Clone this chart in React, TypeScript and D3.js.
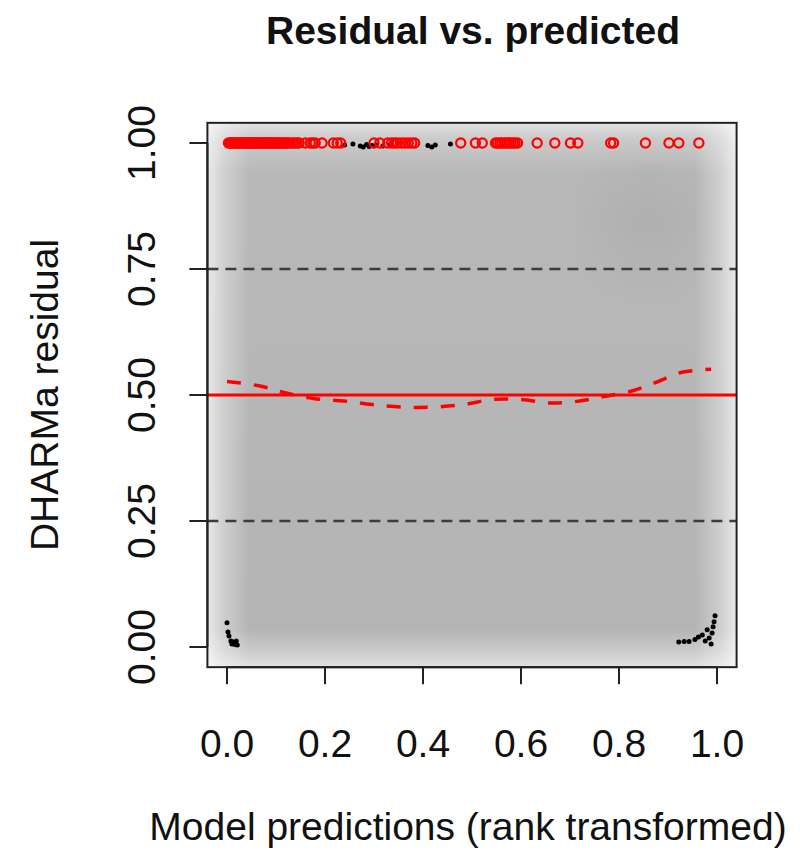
import * as d3 from "d3";

// values
const xTicks = [0, 0.2, 0.4, 0.6, 0.8, 1.0];
const xTickLabels = ["0.0", "0.2", "0.4", "0.6", "0.8", "1.0"];
const yTicks = [0, 0.25, 0.5, 0.75, 1.0];
const yTickLabels = ["0.00", "0.25", "0.50", "0.75", "1.00"];
const quartileLines = [0.25, 0.75];
const medianLine = 0.5;

// red outliers, all at residual = 1
const outlierX = [
	0.003, 0.006, 0.008, 0.011, 0.014, 0.016, 0.019, 0.022, 0.025, 0.027, 0.03, 0.033, 0.035,
	0.038, 0.041, 0.044, 0.046, 0.049, 0.052, 0.055, 0.057, 0.06, 0.063, 0.066, 0.068, 0.071,
	0.074, 0.077, 0.079, 0.082, 0.085, 0.088, 0.09, 0.093, 0.096, 0.099, 0.101, 0.104, 0.107,
	0.11, 0.113, 0.116, 0.119, 0.122, 0.125, 0.129, 0.134, 0.138, 0.143, 0.147, 0.16, 0.17,
	0.175, 0.18, 0.194, 0.217, 0.225, 0.232, 0.3, 0.312, 0.328, 0.336, 0.342, 0.348, 0.356,
	0.363, 0.37, 0.377, 0.383, 0.477, 0.507, 0.521, 0.548, 0.552, 0.557, 0.561, 0.566, 0.57,
	0.575, 0.579, 0.584, 0.588, 0.593, 0.633, 0.669, 0.701, 0.716, 0.783, 0.789, 0.854, 0.902,
	0.922, 0.963
];

// ordinary points
const pointX = [
	0.24, 0.257, 0.272, 0.278, 0.285, 0.29, 0.296, 0.305, 0.318, 0.333, 0.41, 0.418, 0.425, 0.456,
	0.0, 0.002, 0.004, 0.008, 0.01, 0.013, 0.016, 0.019, 0.021,
	0.922, 0.933, 0.943, 0.955, 0.962, 0.97, 0.976, 0.98, 0.984, 0.988, 0.99, 0.992, 0.994, 0.996
];
const pointY = [
	0.996, 0.998, 0.994, 0.992, 0.997, 0.993, 0.995, 0.996, 0.994, 0.997, 0.995, 0.992, 0.996, 0.998,
	0.048, 0.03, 0.022, 0.012, 0.006, 0.01, 0.005, 0.012, 0.004,
	0.01, 0.011, 0.011, 0.015, 0.02, 0.024, 0.012, 0.034, 0.018, 0.006, 0.028, 0.04, 0.05, 0.062
];

// quantile smoother (dashed red)
const smoothX = [0.0, 0.067, 0.116, 0.176, 0.239, 0.296, 0.356, 0.42, 0.483, 0.54, 0.6, 0.66, 0.72, 0.769, 0.826, 0.875, 0.928, 0.988];
const smoothY = [0.527, 0.518, 0.505, 0.493, 0.488, 0.481, 0.476, 0.476, 0.481, 0.491, 0.491, 0.484, 0.488, 0.497, 0.508, 0.525, 0.545, 0.551];

const W = 800;
const H = 858;
const font = "'Liberation Sans', Arial, Helvetica, sans-serif";

export default function App() {
	const x = d3.scaleLinear().domain([0, 1]).range([227, 717]);
	const y = d3.scaleLinear().domain([0, 1]).range([647, 143]);
	const [x0, x1] = [x(-0.04), x(1.04)];
	const [y0, y1] = [y(-0.04), y(1.04)];

	const smoothLine = d3
		.line<number>()
		.x((d, i) => x(smoothX[i]))
		.y(d => y(d))
		.curve(d3.curveCatmullRom);

	return (
		<svg
			width={W}
			height={H}
			style={{ position: "absolute", left: 0, top: 0, background: "white" }}
			fontFamily={font}
		>
			<defs>
				<linearGradient id="fadeX" x1="0" x2="1" y1="0" y2="0">
					<stop offset="0" stopColor="white" stopOpacity={0.7} />
					<stop offset="0.03" stopColor="white" stopOpacity={0.35} />
					<stop offset="0.08" stopColor="white" stopOpacity={0} />
					<stop offset="0.92" stopColor="white" stopOpacity={0} />
					<stop offset="0.97" stopColor="white" stopOpacity={0.35} />
					<stop offset="1" stopColor="white" stopOpacity={0.7} />
				</linearGradient>
				<linearGradient id="fadeY" x1="0" x2="0" y1="0" y2="1">
					<stop offset="0" stopColor="white" stopOpacity={0.6} />
					<stop offset="0.03" stopColor="white" stopOpacity={0.3} />
					<stop offset="0.09" stopColor="white" stopOpacity={0.06} />
					<stop offset="0.93" stopColor="white" stopOpacity={0} />
					<stop offset="0.97" stopColor="white" stopOpacity={0.3} />
					<stop offset="1" stopColor="white" stopOpacity={0.6} />
				</linearGradient>
				<radialGradient id="darkSpot">
					<stop offset="0" stopColor="black" stopOpacity={0.05} />
					<stop offset="1" stopColor="black" stopOpacity={0} />
				</radialGradient>
				<clipPath id="plotClip">
					<rect x={x0} y={y1} width={x1 - x0} height={y0 - y1} />
				</clipPath>
			</defs>

			{/* density background */}
			<g clipPath="url(#plotClip)">
				<rect x={x0} y={y1} width={x1 - x0} height={y0 - y1} fill="#b4b4b4" />
				<circle cx={x(0.86)} cy={y(0.85)} r={90} fill="url(#darkSpot)" />
				<rect x={x0} y={y1} width={x1 - x0} height={y0 - y1} fill="url(#fadeX)" />
				<rect x={x0} y={y1} width={x1 - x0} height={y0 - y1} fill="url(#fadeY)" />
			</g>

			{/* reference lines */}
			{quartileLines.map(q => (
				<line
					key={q}
					x1={x0}
					x2={x1}
					y1={y(q)}
					y2={y(q)}
					stroke="#3c3c3c"
					strokeWidth={2.6}
					strokeDasharray="11 7"
				/>
			))}
			<line x1={x0} x2={x1} y1={y(medianLine)} y2={y(medianLine)} stroke="#ff0000" strokeWidth={3} />
			<path
				d={smoothLine(smoothY) || ""}
				fill="none"
				stroke="#ff0000"
				strokeWidth={3.5}
				strokeDasharray="14 13"
			/>

			{/* points */}
			{pointX.map((px, i) => (
				<circle key={"p" + i} cx={x(px)} cy={y(pointY[i])} r={2.5} fill="black" />
			))}
			{outlierX.map((ox, i) => (
				<circle
					key={"o" + i}
					cx={x(ox)}
					cy={y(1)}
					r={4.6}
					fill="none"
					stroke="#ff0000"
					strokeWidth={2.2}
				/>
			))}

			{/* box */}
			<rect x={x0} y={y1} width={x1 - x0} height={y0 - y1} fill="none" stroke="#222" strokeWidth={2} />

			{/* x axis */}
			<line x1={x(0)} x2={x(1)} y1={y0} y2={y0} stroke="#222" strokeWidth={2} />
			{xTicks.map((t, i) => (
				<g key={"xt" + i}>
					<line x1={x(t)} x2={x(t)} y1={y0} y2={y0 + 17} stroke="#222" strokeWidth={2} />
					<text x={x(t)} y={757} textAnchor="middle" fontSize={39} fill="#111">
						{xTickLabels[i]}
					</text>
				</g>
			))}

			{/* y axis */}
			<line x1={x0} x2={x0} y1={y(0)} y2={y(1)} stroke="#222" strokeWidth={2} />
			{yTicks.map((t, i) => (
				<g key={"yt" + i}>
					<line x1={x0 - 18} x2={x0} y1={y(t)} y2={y(t)} stroke="#222" strokeWidth={2} />
					<text
						transform={`translate(155, ${y(t)}) rotate(-90)`}
						textAnchor="middle"
						fontSize={39}
						fill="#111"
					>
						{yTickLabels[i]}
					</text>
				</g>
			))}

			{/* titles */}
			<text x={473} y={44} textAnchor="middle" fontSize={39} fontWeight="bold" fill="#111">
				Residual vs. predicted
			</text>
			<text x={468} y={840} textAnchor="middle" fontSize={39} fill="#111">
				Model predictions (rank transformed)
			</text>
			<text
				transform={`translate(58, ${y(0.5)}) rotate(-90)`}
				textAnchor="middle"
				fontSize={39}
				fill="#111"
			>
				DHARMa residual
			</text>
		</svg>
	);
}
